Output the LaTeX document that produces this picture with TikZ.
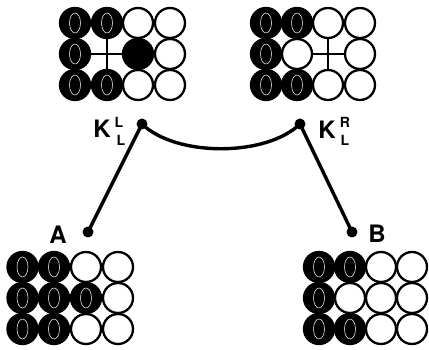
\documentclass[tikz,border=0pt]{standalone}
\usepackage{fontspec}
\setmainfont{TeX Gyre Heros}
\begin{document}
\begin{tikzpicture}[x={(1pt,0)},y={(0,-1pt)},
  wc/.style={draw=black,fill=white,line width=2.3pt},
  bc/.style={draw=black,fill=black,line width=2.3pt},
  zr/.style={draw=white,line width=0.5pt},
  conn/.style={line width=3.4pt},
  dotn/.style={circle,fill=black,inner sep=0pt,minimum size=11pt},
  lbl/.style={font=\bfseries\fontsize{24}{24}\selectfont,inner sep=0pt},
  sml/.style={font=\bfseries\fontsize{14}{14}\selectfont,inner sep=0pt},
  crossl/.style={line width=2pt}]
\useasboundingbox (0,0) rectangle (429,350);
\def\R{15.0}
\newcommand{\bz}[2]{\filldraw[bc] (#1,#2) circle (\R); \draw[zr] (#1,#2) ellipse (5.5 and 10);}
\newcommand{\wh}[2]{\draw[wc] (#1,#2) circle (\R);}
\newcommand{\bl}[2]{\filldraw[bc] (#1,#2) circle (\R);}
% top-left grid
\bz{75}{23}\bz{107}{23}\wh{138}{23}\wh{170}{23}
\bz{75}{54}\bl{138}{54}\wh{170}{54}
\bz{75}{85}\bz{107}{85}\wh{138}{85}\wh{170}{85}
\draw[crossl] (90,54) -- (124,54) (107,38) -- (107,70);
% top-right grid
\bz{266}{23}\bz{297}{23}\wh{328}{23}\wh{360}{23}
\bz{266}{54}\wh{297}{54}\wh{360}{54}
\bz{266}{85}\bz{297}{85}\wh{328}{85}\wh{360}{85}
\draw[crossl] (312,54) -- (345,54) (328,38) -- (328,70);
% bottom-left grid A
\bz{22.5}{267}\bz{54}{267}\wh{86}{267}\wh{118}{267}
\bz{22.5}{298}\bz{54}{298}\bz{86}{298}\wh{118}{298}
\bz{22.5}{329}\bz{54}{329}\wh{86}{329}\wh{118}{329}
% bottom-right grid B
\bz{319}{267}\bz{350}{267}\wh{381}{267}\wh{412}{267}
\bz{319}{298}\wh{350}{298}\wh{381}{298}\wh{412}{298}
\bz{319}{329}\bz{350}{329}\wh{381}{329}\wh{412}{329}
% dots
\node[dotn] (kl) at (142,124) {};
\node[dotn] (kr) at (300,124) {};
\node[dotn] (a) at (88,232) {};
\node[dotn] (b) at (352,232) {};
\draw[conn] (kl.center) .. controls (176,157) and (266,157) .. (kr.center);
\draw[conn] (kl.center) -- (a.center);
\draw[conn] (kr.center) -- (b.center);
% labels
\node[lbl] (kll) at (102,129) {K};
\node[sml] (kll1) at (119,122) {L};
\node[sml] (kll2) at (121,140) {L};
\node[lbl] (klr) at (327,130) {K};
\node[sml] (klr1) at (345,122) {R};
\node[sml] (klr2) at (345,140) {L};
\node[lbl] (la) at (58,235) {A};
\node[lbl] (lb) at (377,234) {B};
\end{tikzpicture}
\end{document}
